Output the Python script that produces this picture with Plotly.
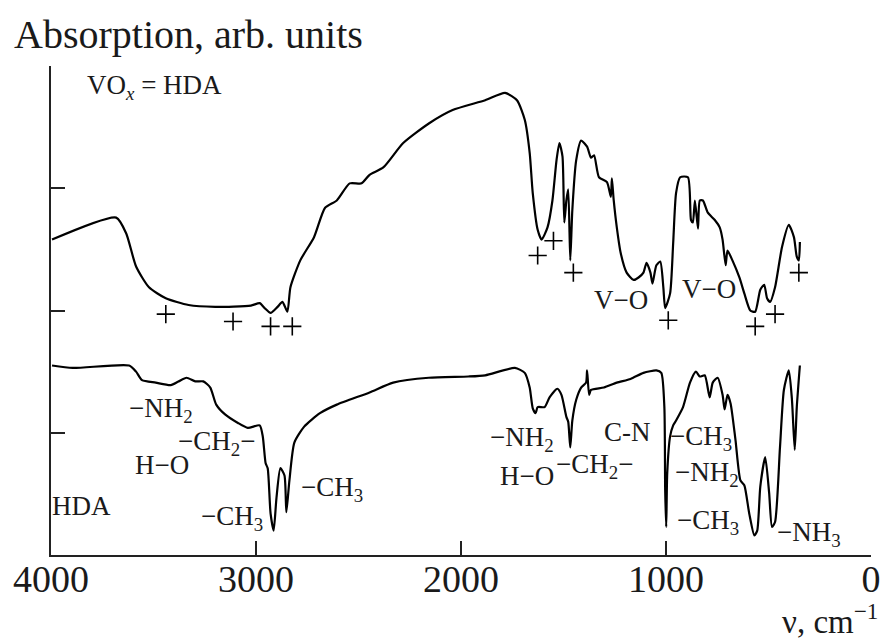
import plotly.graph_objects as go

# ---- data (wavenumber, cm^-1 ; absorption, arb. units) ----
vox_nu = [3995, 3682, 3633, 3585, 3522, 3440, 3329, 3199, 3025, 2982, 2958, 2929, 2895, 2871,
          2847, 2832, 2784, 2717, 2663, 2606, 2543, 2485, 2446, 2379, 2282, 2157, 2041, 1882,
          1785, 1727, 1689, 1665, 1650, 1626, 1607, 1578, 1554, 1534, 1520, 1505, 1496, 1486,
          1477, 1467, 1457, 1438, 1414, 1385, 1366, 1351, 1327, 1288, 1269, 1264, 1255, 1240,
          1221, 1192, 1158, 1134, 1110, 1095, 1076, 1066, 1047, 1028, 1013, 1004, 980, 965,
          951, 931, 893, 878, 869, 859, 844, 835, 820, 796, 762, 738, 724, 709, 700, 676, 642,
          618, 589, 565, 540, 521, 507, 492, 468, 434, 401, 376, 362, 352, 347]
vox_abs = [2.58, 2.76, 2.63, 2.36, 2.19, 2.10, 2.045, 2.03, 2.04, 2.06, 2.02, 1.98, 2.03, 2.07,
           1.99, 2.19, 2.41, 2.60, 2.84, 2.90, 3.04, 3.04, 3.11, 3.17, 3.37, 3.53, 3.64, 3.72,
           3.78, 3.72, 3.56, 3.29, 2.96, 2.66, 2.58, 2.68, 2.90, 3.23, 3.37, 3.26, 2.72, 2.90,
           2.99, 2.41, 2.82, 3.23, 3.39, 3.34, 3.25, 3.27, 3.09, 3.05, 2.93, 3.08, 2.90, 2.68,
           2.47, 2.31, 2.25, 2.27, 2.31, 2.39, 2.31, 2.22, 2.37, 2.40, 2.19, 2.02, 2.14, 2.55,
           2.96, 3.09, 3.09, 2.74, 2.72, 2.90, 2.67, 2.90, 2.90, 2.80, 2.74, 2.68, 2.58, 2.37,
           2.49, 2.41, 2.27, 2.14, 2.00, 1.99, 2.17, 2.21, 2.10, 2.07, 2.19, 2.52, 2.70, 2.60,
           2.44, 2.41, 2.56]

hda_nu = [3995, 3894, 3619, 3585, 3556, 3489, 3416, 3378, 3339, 3296, 3257, 3223, 3194, 3151,
          3088, 3040, 2982, 2967, 2953, 2943, 2929, 2914, 2900, 2881, 2861, 2852, 2837, 2813,
          2765, 2688, 2606, 2446, 2331, 2157, 1964, 1882, 1737, 1689, 1665, 1650, 1636, 1626,
          1592, 1568, 1530, 1510, 1486, 1477, 1467, 1457, 1438, 1414, 1390, 1385, 1375, 1366,
          1303, 1240, 1173, 1110, 1047, 1023, 1008, 1004, 999, 994, 980, 965, 951, 917, 883,
          854, 835, 811, 787, 772, 748, 724, 714, 700, 685, 661, 637, 618, 594, 569, 555, 540,
          516, 497, 483, 468, 444, 425, 401, 386, 372, 362, 347]
hda_abs = [1.55, 1.53, 1.55, 1.50, 1.43, 1.41, 1.39, 1.42, 1.45, 1.42, 1.42, 1.37, 1.23, 1.15,
           1.08, 1.04, 1.06, 0.97, 0.75, 0.71, 0.34, 0.20, 0.47, 0.71, 0.65, 0.35, 0.61, 0.92,
           1.05, 1.16, 1.23, 1.33, 1.41, 1.45, 1.46, 1.47, 1.53, 1.49, 1.37, 1.20, 1.16, 1.21,
           1.21, 1.29, 1.36, 1.31, 1.13, 1.09, 0.88, 1.10, 1.27, 1.37, 1.41, 1.51, 1.31, 1.35,
           1.37, 1.41, 1.44, 1.49, 1.51, 1.49, 1.21, 0.53, 0.23, 0.67, 0.97, 1.06, 1.10, 1.21,
           1.41, 1.50, 1.46, 1.47, 1.29, 1.41, 1.45, 1.31, 1.19, 1.31, 1.24, 0.94, 0.61, 0.57,
           0.34, 0.16, 0.20, 0.56, 0.80, 0.51, 0.23, 0.27, 0.88, 1.35, 1.51, 1.28, 0.86, 1.21,
           1.55]

# "+" marks on the VOx=HDA spectrum
plus_nu = [3440, 3112, 2929, 2823, 1626, 1549, 1452, 989, 565, 468, 352]
plus_abs = [1.97, 1.91, 1.87, 1.87, 2.45, 2.57, 2.31, 1.92, 1.87, 1.97, 2.31]

x_ticks = [4000, 3000, 2000, 1000, 0]
y_ticks = [1, 2, 3, 4]

FONT = "Liberation Serif"
INK = "#1a1a1a"

fig = go.Figure()
for xs, ys in ((vox_nu, vox_abs), (hda_nu, hda_abs)):
    fig.add_trace(go.Scatter(x=xs, y=ys, mode="lines",
                             line=dict(color="black", width=2.2, shape="spline", smoothing=0.6),
                             hoverinfo="skip"))
fig.add_trace(go.Scatter(x=plus_nu, y=plus_abs, mode="markers",
                         marker=dict(symbol="cross-thin", size=13,
                                     line=dict(width=1.6, color="black")),
                         hoverinfo="skip"))

labels = [
    ("VO<sub><i>x</i></sub> = HDA", 3836, 3.83, "left"),
    ("V\u2212O", 1221, 2.09, "center"),
    ("V\u2212O", 791, 2.18, "center"),
    ("\u2212NH<sub>2</sub>", 3628, 1.19, "left"),
    ("\u2212CH<sub>2</sub>\u2212", 3392, 0.92, "left"),
    ("H\u2212O", 3460, 0.74, "center"),
    ("HDA", 3850, 0.40, "center"),
    ("\u2212CH<sub>3</sub>", 2958, 0.30, "right"),
    ("\u2212CH<sub>3</sub>", 2789, 0.54, "left"),
    ("\u2212NH<sub>2</sub>", 1867, 0.95, "left"),
    ("H\u2212O", 1819, 0.65, "left"),
    ("\u2212CH<sub>2</sub>\u2212", 1544, 0.73, "left"),
    ("C-N", 1187, 1.01, "center"),
    ("\u2212CH<sub>3</sub>", 989, 0.96, "left"),
    ("\u2212NH<sub>2</sub>", 965, 0.66, "left"),
    ("\u2212CH<sub>3</sub>", 955, 0.27, "left"),
    ("\u2212NH<sub>3</sub>", 468, 0.17, "left"),
]
for txt, xx, yy, anc in labels:
    fig.add_annotation(x=xx, y=yy, xref="x", yref="y", text=txt, showarrow=False,
                       xanchor=anc, yanchor="middle",
                       font=dict(family=FONT, size=27, color=INK))

fig.add_annotation(x=-0.047, y=1.065, xref="paper", yref="paper",
                   text="Absorption, arb. units", showarrow=False,
                   xanchor="left", yanchor="middle",
                   font=dict(family=FONT, size=40, color=INK))
fig.add_annotation(x=1.0095, y=-0.175, xref="paper", yref="paper",
                   text="\u03bd, cm<sup>\u22121</sup>", showarrow=False,
                   xanchor="right", yanchor="bottom", borderpad=0,
                   font=dict(family=FONT, size=33, color=INK))

fig.update_layout(
    width=893, height=642,
    margin=dict(l=51, r=13, t=66, b=87),
    paper_bgcolor="white", plot_bgcolor="white",
    showlegend=False,
    xaxis=dict(range=[4000, 0], tickvals=x_ticks, ticktext=[str(v) for v in x_ticks],
               ticks="inside", ticklen=14, tickwidth=2, tickcolor="#222",
               ticklabelstandoff=-11,
               showline=True, linecolor="#222", linewidth=2, showgrid=False, zeroline=False,
               tickfont=dict(family=FONT, size=38, color=INK)),
    yaxis=dict(range=[0, 4], tickvals=y_ticks, showticklabels=False,
               ticks="inside", ticklen=14, tickwidth=2, tickcolor="#222",
               showline=True, linecolor="#222", linewidth=2, showgrid=False, zeroline=False),
)

fig.write_html("out.html")
